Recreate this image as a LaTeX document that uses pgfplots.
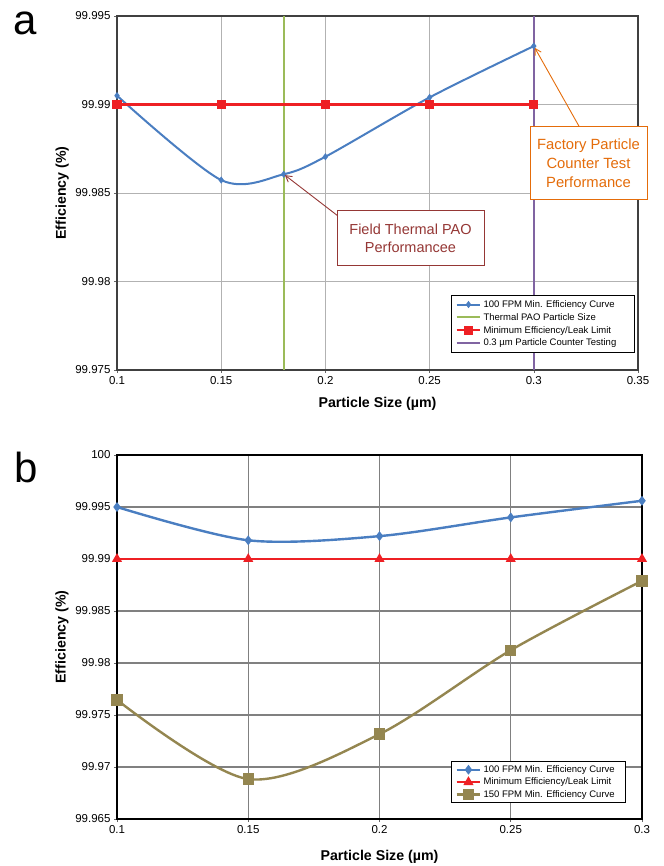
\documentclass[border=0pt]{standalone}
\usepackage{fontspec}
\setmainfont{Liberation Sans}
\usepackage{pgfplots}
\pgfplotsset{compat=1.18}
\usetikzlibrary{arrows.meta}
\definecolor{xblue}{RGB}{74,126,193}
\definecolor{xred}{RGB}{238,32,36}
\definecolor{xgreen}{RGB}{155,187,89}
\definecolor{xpurple}{RGB}{128,100,162}
\definecolor{xolive}{RGB}{148,134,80}
\definecolor{xdred}{RGB}{149,55,53}
\definecolor{xorange}{RGB}{228,108,10}
\pgfplotsset{
  common/.style={
    scale only axis, anchor=north west,
    tick align=outside, tick pos=left, major tick length=3pt,
    ticklabel style={font=\fontsize{11.5}{13}\selectfont},
    xlabel={Particle Size (µm)}, ylabel={Efficiency (\%)},
    label style={font=\fontsize{14.2}{16}\selectfont\bfseries},
    legend cell align=left,
    legend image code/.code={\draw[mark repeat=2,mark phase=2] plot coordinates {(0cm,0cm)(0.42cm,0cm)(0.84cm,0cm)};},
  }
}
\begin{document}
\begin{tikzpicture}
% ---------------- panel a ----------------
\begin{axis}[common,
  at={(117pt,-16pt)}, width=521pt, height=354pt,
  xmin=0.1, xmax=0.35, ymin=99.975, ymax=99.995,
  xtick={0.1,0.15,0.2,0.25,0.3,0.35}, xticklabels={0.1,0.15,0.2,0.25,0.3,0.35},
  ytick={99.975,99.98,99.985,99.99,99.995}, yticklabels={99.975,99.98,99.985,99.99,99.995},
  grid=major, major grid style={draw=black!30, line width=0.8pt},
  axis line style={draw=black!75, line width=1.6pt},
  tick style={black!60, line width=0.6pt},
  xlabel style={at={(axis description cs:0.5,-0.096)}, anchor=center},
  ylabel style={at={(axis description cs:-0.105,0.5)}, anchor=center},
  legend style={at={(axis description cs:0.641,0.212)}, anchor=north west, draw=black, line width=0.8pt, fill=white,
    font=\fontsize{9.5}{11}\selectfont, inner xsep=4pt, inner ysep=3pt, row sep=0.5pt},
]
\addplot[xblue, line width=2pt, smooth, mark=diamond*, mark size=2pt, mark options={fill=xblue}]
  coordinates {(0.1,99.9905) (0.15,99.98573) (0.18,99.98606) (0.2,99.98705) (0.25,99.9904) (0.3,99.9933)};
\addlegendentry{100 FPM Min. Efficiency Curve}
\addplot[xgreen, line width=2pt] coordinates {(0.18,99.975) (0.18,99.995)};
\addlegendentry{Thermal PAO Particle Size}
\addplot[xred, line width=2.3pt, mark=square*, mark size=3.5pt, mark options={fill=xred}]
  coordinates {(0.1,99.99) (0.15,99.99) (0.2,99.99) (0.25,99.99) (0.3,99.99)};
\addlegendentry{Minimum Efficiency/Leak Limit}
\addplot[xpurple, line width=2pt] coordinates {(0.3,99.975) (0.3,99.995)};
\addlegendentry{0.3 µm Particle Counter Testing\rule{12pt}{0pt}}
\coordinate (pa) at (axis cs:0.18,99.98606);
\coordinate (pb) at (axis cs:0.3,99.9933);
\end{axis}
\draw[xdred, line width=0.9pt, -{Straight Barb[length=6pt,width=7pt]}, shorten >=1.5pt] (338pt,-216pt) -- (pa);
\node[draw=xdred, line width=1pt, fill=white, text=xdred, align=center, font=\fontsize{14.5}{18.3}\selectfont,
  minimum width=147pt, minimum height=55pt, inner sep=0pt] at (410.5pt,-238pt) {Field Thermal PAO\\Performancee};
\draw[xorange, line width=0.9pt, -{Straight Barb[length=6pt,width=7pt]}, shorten >=2pt] (580pt,-128pt) -- (pb);
\node[draw=xorange, line width=1pt, fill=white, text=xorange, align=center, font=\fontsize{14.8}{19}\selectfont,
  minimum width=117pt, minimum height=73pt, inner sep=0pt] at (588.5pt,-163.5pt) {Factory Particle\\Counter Test\\Performance};
% ---------------- panel b ----------------
\begin{axis}[common,
  at={(117pt,-455pt)}, width=525pt, height=364pt,
  xmin=0.1, xmax=0.3, ymin=99.965, ymax=100,
  xtick={0.1,0.15,0.2,0.25,0.3}, xticklabels={0.1,0.15,0.2,0.25,0.3},
  ytick={99.965,99.97,99.975,99.98,99.985,99.99,99.995,100},
  yticklabels={99.965,99.97,99.975,99.98,99.985,99.99,99.995,100},
  grid=major, major grid style={draw=black!50, line width=1.1pt},
  axis line style={draw=black, line width=2.6pt},
  tick style={black!60, line width=0.6pt},
  xlabel style={at={(axis description cs:0.5,-0.104)}, anchor=center},
  ylabel style={at={(axis description cs:-0.105,0.5)}, anchor=center},
  legend style={at={(axis description cs:0.636,0.159)}, anchor=north west, draw=black, line width=0.8pt, fill=white,
    font=\fontsize{9.5}{11}\selectfont, inner xsep=4pt, inner ysep=2pt, row sep=0pt},
]
\addplot[xblue, line width=2.4pt, smooth, mark=diamond*, mark size=3pt, mark options={fill=xblue}]
  coordinates {(0.1,99.995) (0.15,99.9918) (0.2,99.9922) (0.25,99.9940) (0.3,99.9956)};
\addlegendentry{100 FPM Min. Efficiency Curve\rule{5pt}{0pt}}
\addplot[xred, line width=2.4pt, mark=triangle*, mark size=3.5pt, mark options={fill=xred}]
  coordinates {(0.1,99.99) (0.15,99.99) (0.2,99.99) (0.25,99.99) (0.3,99.99)};
\addlegendentry{Minimum Efficiency/Leak Limit}
\addplot[xolive, line width=2.4pt, smooth, mark=square*, mark size=4.5pt, mark options={fill=xolive}]
  coordinates {(0.1,99.97645) (0.15,99.96884) (0.2,99.97316) (0.25,99.98123) (0.3,99.9879)};
\addlegendentry{150 FPM Min. Efficiency Curve}
\end{axis}
\node[font=\fontsize{42}{42}\selectfont, anchor=base] at (25pt,-35pt) {a};
\node[font=\fontsize{42}{42}\selectfont, anchor=base] at (26pt,-482pt) {b};
\pgfresetboundingbox
\path[use as bounding box] (0pt,0pt) rectangle (663pt,-866pt);
\end{tikzpicture}
\end{document}
